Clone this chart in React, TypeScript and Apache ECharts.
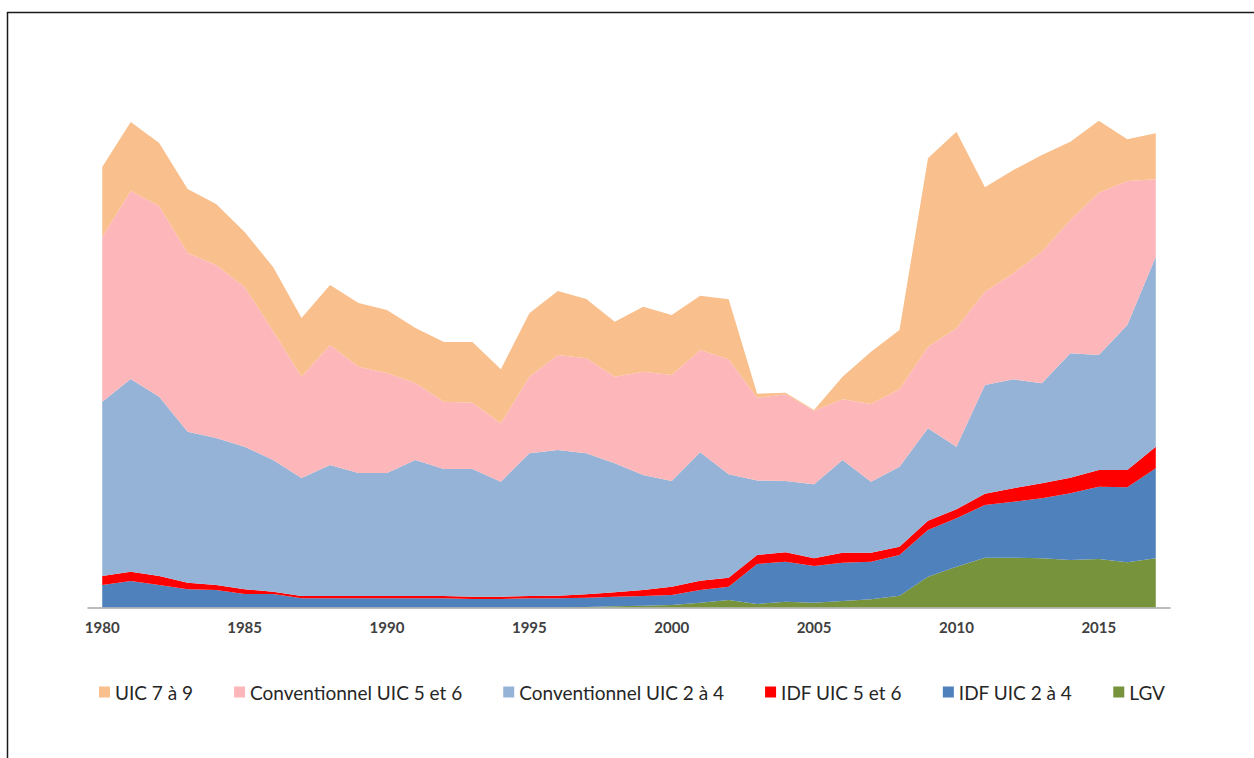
import React, { useEffect, useRef } from "react";
import * as echarts from "echarts";

const years: string[] = [
  "1980","1981","1982","1983","1984","1985","1986","1987","1988","1989",
  "1990","1991","1992","1993","1994","1995","1996","1997","1998","1999",
  "2000","2001","2002","2003","2004","2005","2006","2007","2008","2009",
  "2010","2011","2012","2013","2014","2015","2016","2017",
];

const lgv: number[] = [
  0, 0, 0, 0, 0, 0, 0, 0, 0, 0,
  0, 0, 0, 0, 0, 0, 0, 0.5, 1.2, 1.8,
  2.5, 4.8, 7.5, 3.5, 5.8, 4.8, 6.5, 8.2, 11.8, 30.8,
  40.8, 49.8, 49.8, 49.2, 47.5, 48.5, 45.2, 49.2,
];
const idf24: number[] = [
  22.5, 26.5, 22.5, 18.2, 17.5, 13.5, 13.5, 9.2, 9.2, 9.2,
  9.2, 9.2, 9.2, 8.5, 8.5, 9.2, 9.2, 9.3, 9.6, 9.7,
  10, 12.7, 13.3, 40, 40, 36.7, 38.3, 37.6, 40.7, 46.7,
  48.4, 52.7, 56, 60, 66.7, 72.3, 75, 90,
];
const idf56: number[] = [
  9, 9.3, 9, 6.6, 5, 4.7, 2.3, 2.3, 2.3, 2.3,
  2.3, 2.3, 2.3, 2.3, 2.3, 2.3, 2.6, 3.4, 4.4, 6,
  8.3, 9.3, 9, 9, 9.4, 7.7, 10, 9, 8.3, 9.3,
  9, 11.2, 13.4, 15, 15.6, 16.7, 17.3, 21.6,
];
const conv24: number[] = [
  174.3, 192.7, 179.3, 151, 147, 142.6, 131.7, 118, 131, 123,
  123, 136, 127, 127.7, 115, 142.7, 145.7, 141, 129, 115,
  105.7, 128.4, 103.4, 74.5, 71.3, 74, 92.7, 71, 80, 92.4,
  62.6, 108.8, 109, 100, 124.4, 115, 145, 190,
];
const conv56: number[] = [
  164.7, 188, 190.7, 178.7, 173, 159.7, 129, 101.3, 120, 106.3,
  100, 77, 67.3, 66.3, 58.4, 76.6, 95, 95, 86.6, 103.3,
  106, 102.3, 115, 82.7, 86.7, 73.6, 60.7, 77.7, 77.4, 81.6,
  118.4, 93.3, 106, 131.6, 133.3, 162.3, 144, 77.4,
];
const uic79: number[] = [
  70, 69, 63, 64, 61, 55, 64, 58.7, 60, 63.7,
  63, 55, 59.7, 60.7, 54, 63.4, 64, 59.3, 55, 65,
  60, 54.3, 60, 4, 1.6, 0.7, 22.6, 52.3, 59.3, 188.4,
  196.6, 104.4, 103.3, 96.7, 78.3, 72, 41.7, 46,
];

const seriesNames: string[] = [
  "LGV",
  "IDF UIC 2 à 4",
  "IDF UIC 5 et 6",
  "Conventionnel UIC 2 à 4",
  "Conventionnel UIC 5 et 6",
  "UIC 7 à 9",
];
const legendOrder: string[] = [
  "UIC 7 à 9",
  "Conventionnel UIC 5 et 6",
  "Conventionnel UIC 2 à 4",
  "IDF UIC 5 et 6",
  "IDF UIC 2 à 4",
  "LGV",
];
const seriesColors: string[] = ["#77933C", "#4F81BD", "#FF0000", "#95B3D7", "#FDB7BA", "#F9BF8C"];

export default function App() {
  const ref = useRef<HTMLDivElement>(null);
  useEffect(() => {
    if (!ref.current) return;
    const chart = echarts.init(ref.current, null, { renderer: "svg" });
    const dataSets = [lgv, idf24, idf56, conv24, conv56, uic79];
    const option: any = {
      animation: false,
      backgroundColor: "#ffffff",
      grid: { left: 88, right: 84, top: 107.5, bottom: 150.5, containLabel: false },
      legend: {
        data: legendOrder,
        left: 99,
        top: 681,
        padding: 0,
        itemWidth: 11,
        itemHeight: 11,
        itemGap: 41,
        icon: "rect",
        textStyle: { fontFamily: "Lato", fontSize: 19, lineHeight: 22, color: "#262626" },
      },
      xAxis: {
        type: "category",
        data: years,
        boundaryGap: true,
        axisLine: { lineStyle: { color: "#A6A6A6", width: 1.5 } },
        axisTick: { interval: 4, length: 6, lineStyle: { color: "#A6A6A6", width: 1 } },
        axisLabel: {
          interval: 4,
          margin: 12,
          fontFamily: "Lato",
          fontSize: 15,
          fontWeight: "bold",
          color: "#404040",
        },
        splitLine: { show: false },
      },
      yAxis: {
        type: "value",
        min: 0,
        max: 500,
        show: false,
        splitLine: { show: false },
      },
      graphic: [
        { type: "line", shape: { x1: 7, y1: 12.5, x2: 1254, y2: 12.5 }, style: { stroke: "#1a1a1a", lineWidth: 1.5 } },
        { type: "line", shape: { x1: 7.5, y1: 12, x2: 7.5, y2: 758 }, style: { stroke: "#1a1a1a", lineWidth: 1.5 } },
      ],
      series: seriesNames.map((name, i) => ({
        name,
        type: "line",
        stack: "total",
        data: dataSets[i],
        symbol: "none",
        showSymbol: false,
        lineStyle: { width: 0 },
        areaStyle: { color: seriesColors[i], opacity: 1 },
        itemStyle: { color: seriesColors[i] },
        emphasis: { disabled: true },
      })),
    };
    chart.setOption(option);
    return () => chart.dispose();
  }, []);
  return (
    <div
      ref={ref}
      style={{ position: "absolute", left: 0, top: 0, width: 1254, height: 758 }}
    />
  );
}
